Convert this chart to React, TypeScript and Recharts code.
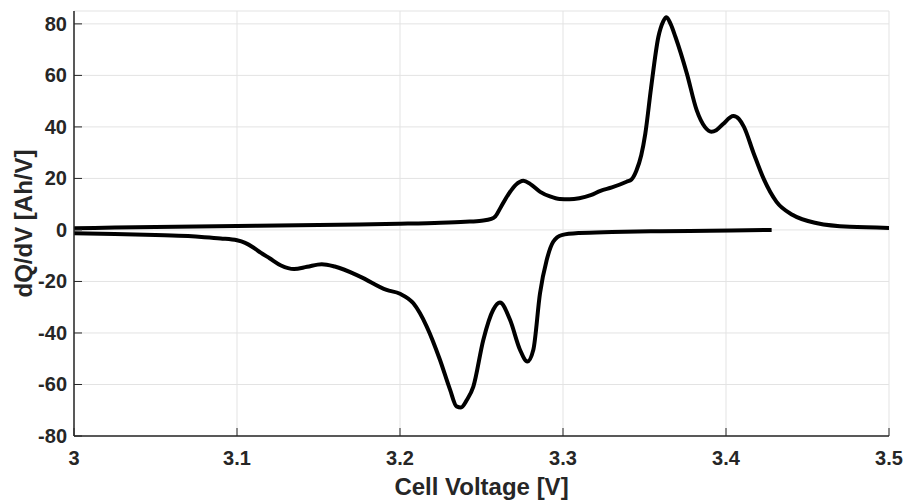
import React from 'react';
import { LineChart, Line, XAxis, YAxis, CartesianGrid } from 'recharts';

// Axis ticks
const voltageTicks = [3, 3.1, 3.2, 3.3, 3.4, 3.5];
const dqdvTicks = [-80, -60, -40, -20, 0, 20, 40, 60, 80];

// Charge branch (positive dQ/dV)
const chargeVoltage = [
  3.0, 3.025, 3.05, 3.075, 3.1, 3.125, 3.15, 3.175, 3.2, 3.225, 3.24, 3.25, 3.256, 3.2585,
  3.262, 3.2665, 3.271, 3.2757, 3.28, 3.286, 3.292, 3.298, 3.304, 3.31, 3.317, 3.323, 3.33,
  3.339, 3.342, 3.345, 3.348, 3.3505, 3.354, 3.3585, 3.3615, 3.3635, 3.366, 3.369, 3.376,
  3.382, 3.387, 3.391, 3.394, 3.398, 3.4045, 3.408, 3.411, 3.417, 3.423, 3.431, 3.441, 3.456,
  3.476, 3.5,
];
const chargeDqdv = [
  0.7, 0.9, 1.1, 1.3, 1.5, 1.7, 1.9, 2.1, 2.4, 2.8, 3.2, 3.6, 4.3, 5.3,
  9, 13.8, 17.5, 19.1, 17.8, 14.8, 13, 12, 11.9, 12.3, 13.5, 15.2, 16.5,
  18.7, 19.6, 23, 29, 37.4, 55, 74.9, 81, 82.6, 80, 74.9, 60.7,
  46.5, 40, 38.1, 38.7, 41, 44.2, 43, 40, 29.7, 20, 10.9, 5.8, 2.6,
  1.2, 0.8,
];

// Discharge branch (negative dQ/dV)
const dischargeVoltage = [
  3.0, 3.025, 3.05, 3.07, 3.08, 3.09, 3.1, 3.105, 3.11, 3.1145, 3.12, 3.127, 3.135, 3.143,
  3.152, 3.16, 3.1755, 3.1918, 3.2, 3.2082, 3.2164, 3.2245, 3.2307, 3.2347, 3.2374, 3.241,
  3.245, 3.2511, 3.2572, 3.2613, 3.2675, 3.2736, 3.2781, 3.2818, 3.2859, 3.29, 3.294, 3.2992,
  3.31, 3.33, 3.36, 3.39, 3.428,
];
const dischargeDqdv = [
  -1.3, -1.6, -2.0, -2.4, -2.8, -3.3, -4.0, -5.0, -6.8, -8.8, -11, -13.8, -15.2, -14.3,
  -13.3, -14.2, -18.1, -23.3, -24.8, -28.5, -37.5, -50.4, -62, -68.5, -68.9, -66,
  -60.8, -42.7, -31, -28.2, -34.9, -46.5, -51.1, -46.5, -24.6, -11.7, -4.6, -2,
  -1.2, -0.8, -0.5, -0.3, 0,
];

const chargeData = chargeVoltage.map((v, i) => ({ v, dq: chargeDqdv[i] }));
const dischargeData = dischargeVoltage.map((v, i) => ({ v, dq: dischargeDqdv[i] }));

const FONT = "'Liberation Sans', Arial, Helvetica, sans-serif";
const INK = '#262626';
const TICK_LEN = 8;

const BottomTick = (props: any) => {
  const { x, y, payload } = props;
  return (
    <g>
      <line x1={x} y1={y} x2={x} y2={y - TICK_LEN} stroke={INK} strokeWidth={1} />
      <text x={x} y={y + 29} textAnchor="middle" fontFamily={FONT} fontWeight="bold" fontSize={20} fill={INK}>
        {payload.value}
      </text>
    </g>
  );
};

const LeftTick = (props: any) => {
  const { x, y, payload } = props;
  return (
    <g>
      <line x1={x} y1={y} x2={x + TICK_LEN} y2={y} stroke={INK} strokeWidth={1} />
      <text x={x - 7} y={y + 7} textAnchor="end" fontFamily={FONT} fontWeight="bold" fontSize={20} fill={INK}>
        {payload.value}
      </text>
    </g>
  );
};

const TopTick = (props: any) => (
  <line x1={props.x} y1={props.y} x2={props.x} y2={props.y + TICK_LEN} stroke={INK} strokeWidth={1} />
);

const RightTick = (props: any) => (
  <line x1={props.x} y1={props.y} x2={props.x - TICK_LEN} y2={props.y} stroke={INK} strokeWidth={1} />
);

const XTitle = (props: any) => {
  const { x, y, width } = props.viewBox;
  return (
    <text x={x + width / 2} y={y + 59} textAnchor="middle" fontFamily={FONT} fontWeight="bold" fontSize={24} fill={INK}>
      Cell Voltage [V]
    </text>
  );
};

const YTitle = (props: any) => {
  const { x, y, height } = props.viewBox;
  const cx = x + 32;
  const cy = y + height / 2;
  return (
    <text
      x={cx}
      y={cy}
      transform={`rotate(-90, ${cx}, ${cy})`}
      textAnchor="middle"
      fontFamily={FONT}
      fontWeight="bold"
      fontSize={24}
      fill={INK}
    >
      dQ/dV [Ah/V]
    </text>
  );
};

export default function App() {
  return (
    <div style={{ position: 'absolute', left: 0, top: 0, width: 906, height: 500, background: '#fff' }}>
      <LineChart width={906} height={500} margin={{ top: 11, right: 17, left: 0, bottom: 0 }}>
        <CartesianGrid stroke="#e3e3e3" strokeWidth={1} />
        <XAxis
          type="number"
          dataKey="v"
          domain={[3, 3.5]}
          ticks={voltageTicks}
          interval={0}
          allowDataOverflow
          height={64}
          tickSize={0}
          tickMargin={0}
          tickLine={false}
          axisLine={{ stroke: INK, strokeWidth: 1.5 }}
          tick={<BottomTick />}
          label={<XTitle />}
        />
        <XAxis
          xAxisId="top"
          orientation="top"
          type="number"
          dataKey="v"
          domain={[3, 3.5]}
          ticks={voltageTicks}
          interval={0}
          allowDataOverflow
          height={0}
          tickSize={0}
          tickMargin={0}
          tickLine={false}
          axisLine={{ stroke: INK, strokeWidth: 1.5 }}
          tick={<TopTick />}
        />
        <YAxis
          type="number"
          domain={[-80, 85]}
          ticks={dqdvTicks}
          interval={0}
          allowDataOverflow
          width={74}
          tickSize={0}
          tickMargin={0}
          tickLine={false}
          axisLine={{ stroke: INK, strokeWidth: 1.5 }}
          tick={<LeftTick />}
          label={<YTitle />}
        />
        <YAxis
          yAxisId="right"
          orientation="right"
          type="number"
          domain={[-80, 85]}
          ticks={dqdvTicks}
          interval={0}
          allowDataOverflow
          width={0}
          tickSize={0}
          tickMargin={0}
          tickLine={false}
          axisLine={{ stroke: INK, strokeWidth: 1.5 }}
          tick={<RightTick />}
        />
        <Line
          data={chargeData}
          dataKey="dq"
          type="monotone"
          stroke="#000"
          strokeWidth={4}
          dot={false}
          isAnimationActive={false}
        />
        <Line
          data={dischargeData}
          dataKey="dq"
          type="monotone"
          stroke="#000"
          strokeWidth={4}
          dot={false}
          isAnimationActive={false}
        />
      </LineChart>
    </div>
  );
}
